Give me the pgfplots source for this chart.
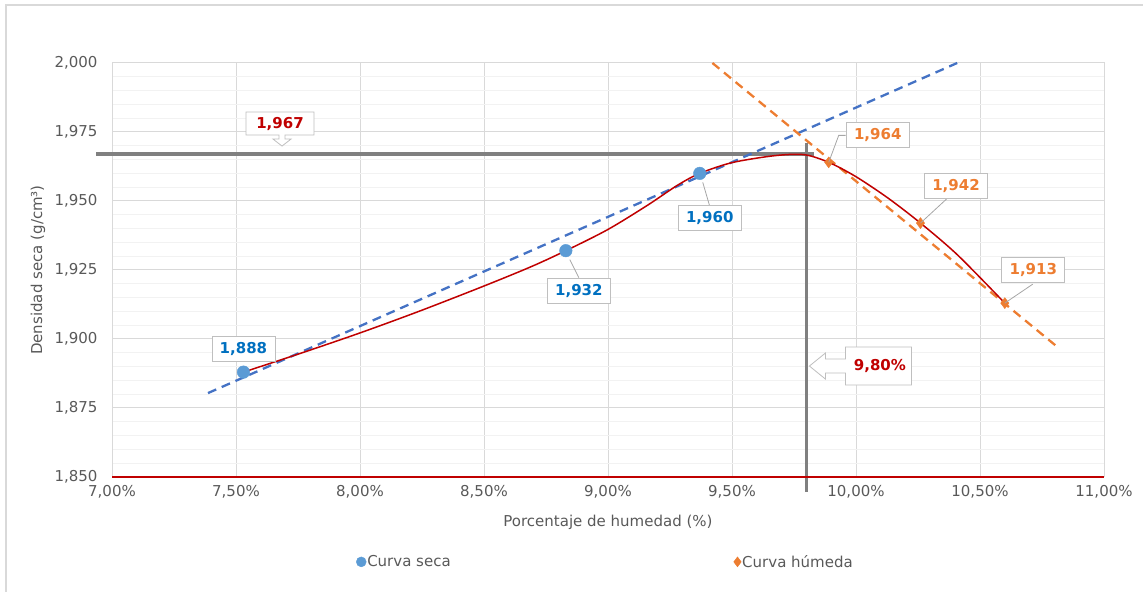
\documentclass[border=0pt]{standalone}
\usepackage{pgfplots}
\pgfplotsset{compat=1.18}
\usetikzlibrary{calc}
\usepackage{fontspec}
\setmainfont{DejaVu Sans}

\definecolor{txtgray}{HTML}{595959}
\definecolor{gridmaj}{HTML}{D9D9D9}
\definecolor{gridmin}{HTML}{F2F2F2}
\definecolor{secablue}{HTML}{5B9BD5}
\definecolor{trendblue}{HTML}{4472C4}
\definecolor{humorange}{HTML}{ED7D31}
\definecolor{curvered}{HTML}{C00000}
\definecolor{labelblue}{HTML}{0070C0}
\definecolor{refgray}{HTML}{808080}
\definecolor{boxgray}{HTML}{BFBFBF}
\definecolor{leadgray}{HTML}{A6A6A6}

\tikzset{
  vlabel/.style={draw=boxgray, fill=white, line width=0.8bp, inner sep=0pt,
    minimum width=63bp, minimum height=25bp, font=\fontsize{15bp}{18bp}\selectfont\bfseries},
  leader/.style={leadgray, line width=0.8bp},
}

\begin{document}
\begin{tikzpicture}[font=\fontsize{15bp}{18bp}\selectfont]
\path[use as bounding box] (0,0) rectangle (1143bp,592bp);
\draw[gridmaj, line width=2bp] (6bp,0) -- (6bp,587bp) -- (1143bp,587bp);
\begin{axis}[
  at={(112bp,115bp)}, anchor=south west,
  scale only axis, width=992bp, height=414bp,
  xmin=7, xmax=11, ymin=1.85, ymax=2.0,
  xtick={7,7.5,8,8.5,9,9.5,10,10.5,11},
  xticklabels={{7,00\%},{7,50\%},{8,00\%},{8,50\%},{9,00\%},{9,50\%},{10,00\%},{10,50\%},{11,00\%}},
  ytick={1.85,1.875,1.9,1.925,1.95,1.975,2.0},
  yticklabels={{1,850},{1,875},{1,900},{1,925},{1,950},{1,975},{2,000}},
  minor y tick num=4,
  grid=both,
  major grid style={gridmaj, line width=1bp},
  minor grid style={gridmin, line width=1bp},
  tick style={draw=none},
  axis line style={gridmaj, line width=1bp},
  ticklabel style={text=txtgray, font=\fontsize{15bp}{18bp}\selectfont},
  yticklabel style={xshift=-11bp},
  xticklabel style={yshift=-5bp},
  xlabel={Porcentaje de humedad (\%)},
  ylabel={Densidad seca (g/cm³)},
  label style={text=txtgray, font=\fontsize{15bp}{18bp}\selectfont},
  xlabel style={at={(axis description cs:0.5,-0.1087)}, anchor=center},
  ylabel style={at={(axis description cs:-0.0746,0.5)}, anchor=center},
  legend columns=2,
  legend style={at={(axis description cs:0.497,-0.205)}, anchor=center, draw=none,
    fill=none, font=\fontsize{15bp}{18bp}\selectfont, text=txtgray,
    nodes={inner sep=1bp},
    /tikz/every even column/.append style={column sep=282bp}},
  legend image code/.code={\draw[mark repeat=2,mark phase=2,#1,mark size=5bp]
    plot coordinates {(0bp,0bp) (6bp,0bp) (12bp,0bp)};},
  clip=false,
]
% dry branch points
\addplot[only marks, color=secablue, mark=*, mark size=6.3bp,
  mark options={draw=secablue, fill=secablue}]
  coordinates {(7.53,1.888) (8.83,1.932) (9.37,1.960)};
\addlegendentry{Curva seca}
% wet branch points
\addplot[only marks, color=humorange, mark=diamond*, mark size=5.5bp,
  mark options={draw=humorange, fill=humorange}]
  coordinates {(9.89,1.964) (10.26,1.942) (10.60,1.913)};
\addlegendentry{Curva húmeda}

% maximum dry density and optimum moisture reference lines
\addplot[refgray, line width=3.5bp, forget plot] coordinates {(6.936,1.967) (9.832,1.967)};
\addplot[refgray, line width=3.5bp, forget plot] coordinates {(9.80,1.971) (9.80,1.8446)};

% linear trends of both branches
\addplot[trendblue, line width=2.3bp, dash pattern=on 9bp off 6bp, forget plot]
  coordinates {(7.387,1.8804) (10.408,2.000)};
\addplot[humorange, line width=2.3bp, dash pattern=on 9bp off 6bp, forget plot]
  coordinates {(9.421,2.000) (10.819,1.8966)};

% compaction curve
\addplot[curvered, line width=1.5bp, smooth, tension=0.5, forget plot] coordinates {
  (7.53,1.888) (7.76,1.8948) (8.00,1.9022) (8.24,1.9101) (8.50,1.9192)
  (8.69,1.9262) (8.83,1.932) (9.00,1.9397) (9.16,1.9485) (9.28,1.9557)
  (9.37,1.960) (9.50,1.9639) (9.67,1.9664) (9.79,1.9668) (9.89,1.964)
  (10.00,1.9588) (10.13,1.9510) (10.26,1.942) (10.41,1.9304) (10.60,1.913)};
% base line
\addplot[curvered, line width=1.5bp, forget plot] coordinates {(7,1.85) (11,1.85)};

% anchors for the annotations
\coordinate (s1) at (axis cs:7.53,1.888);
\coordinate (s2) at (axis cs:8.83,1.932);
\coordinate (s3) at (axis cs:9.37,1.960);
\coordinate (h1) at (axis cs:9.89,1.964);
\coordinate (h2) at (axis cs:10.26,1.942);
\coordinate (h3) at (axis cs:10.60,1.913);
\coordinate (mx) at (axis cs:7.6855,1.967);
\coordinate (op) at (axis cs:9.80,1.8902);
\end{axis}

% value labels, dry branch
\node[vlabel, text=labelblue] at ($(s1)+(0bp,23bp)$) {1,888};
\draw[leader] ($(s2)+(4bp,-9bp)$) -- ($(s2)+(13bp,-27bp)$);
\node[vlabel, text=labelblue] at ($(s2)+(13bp,-40bp)$) {1,932};
\draw[leader] ($(s3)+(3bp,-9bp)$) -- ($(s3)+(10bp,-33bp)$);
\node[vlabel, text=labelblue] at ($(s3)+(10bp,-45bp)$) {1,960};

% value labels, wet branch
\draw[leader] (h1) -- ++(10bp,27bp) -- ++(7bp,0);
\node[vlabel, text=humorange] at ($(h1)+(49bp,27.5bp)$) {1,964};
\draw[leader] (h2) -- ++(26bp,24bp);
\node[vlabel, text=humorange] at ($(h2)+(35.5bp,37bp)$) {1,942};
\draw[leader] (h3) -- ++(28bp,19bp);
\node[vlabel, text=humorange] at ($(h3)+(28.5bp,33.5bp)$) {1,913};

% callout for the maximum dry density
\draw[boxgray, fill=white, line width=0.8bp] ($(mx)+(0bp,8bp)$) -- ++(9bp,7bp) -- ++(-6bp,0) -- ++(0,4bp)
  -- ++(29bp,0) -- ++(0,23bp) -- ++(-68bp,0) -- ++(0,-23bp) -- ++(33bp,0)
  -- ++(0,-4bp) -- ++(-6bp,0) -- cycle;
\node[text=curvered, font=\fontsize{15bp}{18bp}\selectfont\bfseries] at ($(mx)+(-2bp,30.5bp)$) {1,967};

% callout for the optimum moisture content
\draw[boxgray, fill=white, line width=0.8bp] ($(op)+(3bp,0bp)$) -- ++(16bp,13bp) -- ++(0,-6bp) -- ++(20bp,0)
  -- ++(0,12bp) -- ++(66bp,0) -- ++(0,-38bp) -- ++(-66bp,0) -- ++(0,12bp)
  -- ++(-20bp,0) -- ++(0,-6bp) -- cycle;
\node[text=curvered, font=\fontsize{15bp}{18bp}\selectfont\bfseries] at ($(op)+(73.5bp,0bp)$) {9,80\%};
\end{tikzpicture}
\end{document}
